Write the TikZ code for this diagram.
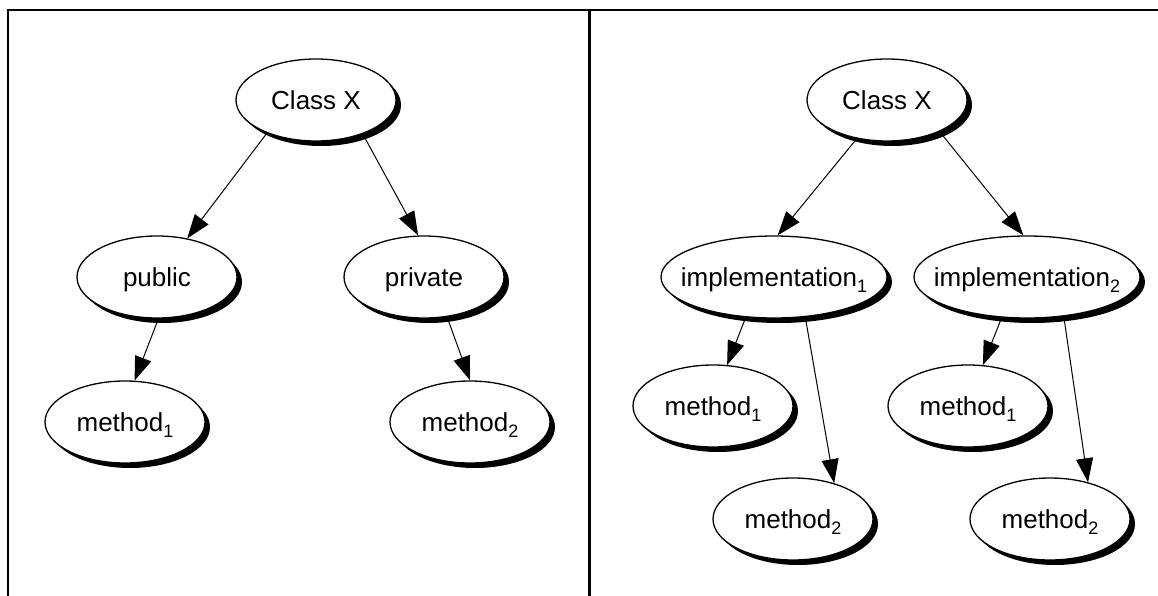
\documentclass[tikz,border=0pt]{standalone}
\usepackage{fontspec}
\setmainfont{Liberation Sans}
\usetikzlibrary{shapes.geometric,shadows,arrows.meta}
\newcommand{\msub}[1]{\raisebox{-6pt}{\fontsize{18}{20}\selectfont #1}}
\newcommand{\lbl}[1]{\makebox[0pt][c]{#1}}
\begin{document}
\begin{tikzpicture}[x=1pt,y=-1pt,
  ell/.style={ellipse, draw, line width=1.3pt, fill=white,
    minimum width=160pt, minimum height=82pt, inner sep=0pt,
    font=\fontsize{26}{30}\selectfont, text height=19pt, text depth=0pt,
    drop shadow={shadow xshift=5pt, shadow yshift=-5pt, fill=black, opacity=1}},
  wide/.style={minimum width=226pt},
  arr/.style={-{Triangle[length=24pt,width=17pt]}, line width=1pt},
  frame/.style={line width=2.5pt}]
\useasboundingbox (0,0) rectangle (1158,596);
\fill[white] (0,0) rectangle (1158,596);
\draw[frame] (8,596) -- (8,10) -- (1158,10);
\draw[frame] (589.5,10) -- (589.5,596);
% left panel
\node[ell] (cxl) at (316,100) {\lbl{Class X}};
\node[ell] (pub) at (157,277) {\lbl{public}};
\node[ell] (priv) at (424,277) {\lbl{private}};
\node[ell] (m1l) at (125,422) {\lbl{method\msub{1}}};
\node[ell] (m2l) at (470,422) {\lbl{method\msub{2}}};
% right panel
\node[ell] (cxr) at (887,100) {\lbl{Class X}};
\node[ell,wide] (im1) at (774,277) {\lbl{implementation\msub{1}}};
\node[ell,wide] (im2) at (1027,277) {\lbl{implementation\msub{2}}};
\node[ell] (m1a) at (713,406) {\lbl{method\msub{1}}};
\node[ell] (m2a) at (793,519) {\lbl{method\msub{2}}};
\node[ell] (m1b) at (968,406) {\lbl{method\msub{1}}};
\node[ell] (m2b) at (1050,519) {\lbl{method\msub{2}}};
% connectors
\draw[arr] (cxl.214) -- (pub.52);
\draw[arr] (cxl.324) -- (priv.98);
\draw[arr] (pub.272) -- (m1l.77);
\draw[arr] (priv.300) -- (m2l.90);
\draw[arr] (cxr.232) -- (im1.85);
\draw[arr] (cxr.329) -- (im2.95);
\draw[arr] (im1.235) -- (m1a.71);
\draw[arr] (im1.308) -- (m2a.41);
\draw[arr] (im2.238) -- (m1b.70);
\draw[arr] (im2.313) -- (m2b.44);
\end{tikzpicture}
\end{document}
